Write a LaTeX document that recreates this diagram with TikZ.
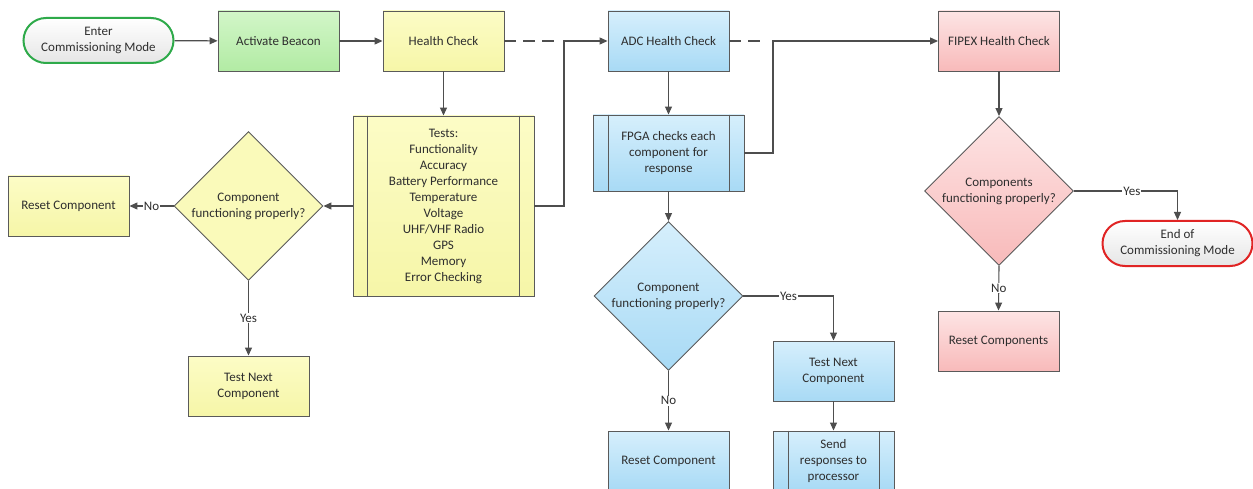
\documentclass[tikz,border=0pt]{standalone}
\usepackage{fontspec}
\setmainfont{Carlito}
\usetikzlibrary{arrows.meta,shapes.geometric}

\definecolor{edgegray}{HTML}{5A5A5A}
\definecolor{linegray}{HTML}{4E4E4E}
\definecolor{textgray}{HTML}{2E2E2E}
\definecolor{greentop}{HTML}{D2F6C8}
\definecolor{greenbot}{HTML}{B2EBA4}
\definecolor{yellowtop}{HTML}{FCFCC6}
\definecolor{yellowbot}{HTML}{F6F6A8}
\definecolor{bluetop}{HTML}{D6EFFC}
\definecolor{bluebot}{HTML}{A8DAF5}
\definecolor{pinktop}{HTML}{FDE4E4}
\definecolor{pinkbot}{HTML}{F8BABA}
\definecolor{termgreen}{HTML}{2EAA4A}
\definecolor{termred}{HTML}{E02424}

\begin{document}
\begin{tikzpicture}[x=1pt,y=-1pt,
  base/.style={draw=edgegray, line width=0.9pt, align=center, text=textgray,
    font=\fontsize{13}{16}\selectfont, inner sep=2pt},
  proc/.style={base, rectangle, minimum width=121pt, minimum height=60pt},
  green/.style={top color=greentop, bottom color=greenbot},
  yellow/.style={top color=yellowtop, bottom color=yellowbot},
  blue/.style={top color=bluetop, bottom color=bluebot},
  pink/.style={top color=pinktop, bottom color=pinkbot},
  terminal/.style={base, rounded corners=22.5pt, minimum width=150pt,
    minimum height=45pt, line width=2pt, top color=white, bottom color=black!10},
  decision/.style={base, diamond, minimum width=149pt, minimum height=149pt, inner sep=0pt},
  arr/.style={draw=linegray, line width=1.1pt, -{Triangle[length=8pt,width=7pt]}},
  dashline/.style={draw=linegray, line width=1.1pt, dash pattern=on 12pt off 7pt},
  lbl/.style={fill=white, inner sep=1pt, text=textgray, font=\fontsize{13}{15}\selectfont}
]
\useasboundingbox (0,0) rectangle (1253,489);
\fill[white] (0,0) rectangle (1253,489);

% top row
\node[terminal, draw=termgreen] (enter) at (98.5,40.5) {Enter\\Commissioning Mode};
\node[proc, green] (act) at (278.5,41) {Activate Beacon};
\node[proc, yellow] (hc) at (443.5,41) {Health Check};
\node[proc, blue] (adc) at (668.5,41) {ADC Health Check};
\node[proc, pink] (fipex) at (999,41) {FIPEX Health Check};

% health check branch
\node[proc, yellow, minimum width=181pt, minimum height=180pt] (tests) at (443.5,206)
  {Tests:\\Functionality\\Accuracy\\Battery Performance\\Temperature\\Voltage\\UHF/VHF Radio\\GPS\\Memory\\Error Checking};
\node[decision, fill=yellowtop!60!yellowbot] (d1) at (248.5,206) {Component\\functioning properly?};
\node[proc, yellow] (reset1) at (68.5,206) {Reset Component};
\node[proc, yellow] (next1) at (248.5,386) {Test Next\\Component};

% ADC branch
\node[proc, blue, minimum width=151pt, minimum height=76pt] (fpga) at (668.5,153)
  {FPGA checks each\\component for\\response};
\node[decision, blue] (d2) at (668.5,296) {Component\\functioning properly?};
\node[proc, blue] (next2) at (833.5,371) {Test Next\\Component};
\node[proc, blue] (reset2) at (668.5,461) {Reset Component};
\node[proc, blue] (send) at (833.5,461) {Send\\responses to\\processor};

% FIPEX branch
\node[decision, pink] (d3) at (999,191) {Components\\functioning properly?};
\node[proc, pink] (reset3) at (998.5,341) {Reset Components};
\node[terminal, draw=termred] (end) at (1177.5,243.5) {End of\\Commissioning Mode};

% side bars of the predefined-process boxes
\foreach \n/\d in {tests/15pt, fpga/15.5pt, send/15.5pt}{
  \draw[edgegray, line width=0.9pt] ([xshift=\d]\n.north west) -- ([xshift=\d]\n.south west);
  \draw[edgegray, line width=0.9pt] ([xshift=-\d]\n.north east) -- ([xshift=-\d]\n.south east);
}

% connectors
\coordinate (dashend1) at (560,41);
\coordinate (bend1) at (564,41);
\coordinate (dashend2) at (767,41);
\coordinate (bend2) at (773,41);

\draw[arr] (enter) -- (act);
\draw[arr] (act) -- (hc);
\draw[dashline] (hc.east) -- (dashend1);
\draw[arr] (tests.east) -| (bend1) -- (adc.west);
\draw[arr] (hc) -- (tests);
\draw[arr] (tests.west) -- (d1.east);
\draw[arr] (d1.west) -- node[lbl]{No} (reset1.east);
\draw[arr] (d1.south) -- node[lbl]{Yes} (next1.north);

\draw[arr] (adc) -- (fpga);
\draw[dashline] (adc.east) -- (dashend2);
\draw[arr] (fpga.east) -| (bend2) -- (fipex.west);
\draw[arr] (fpga) -- (d2);
\draw[arr] (d2.east) -| node[lbl, pos=0.25]{Yes} (next2.north);
\draw[arr] (d2.south) -- node[lbl]{No} (reset2.north);
\draw[arr] (next2) -- (send);

\draw[arr] (fipex) -- (d3);
\draw[arr] (d3.east) -| node[lbl, pos=0.28]{Yes} (end.north);
\draw[arr] (d3.south) -- node[lbl]{No} (reset3.north);
\end{tikzpicture}
\end{document}
